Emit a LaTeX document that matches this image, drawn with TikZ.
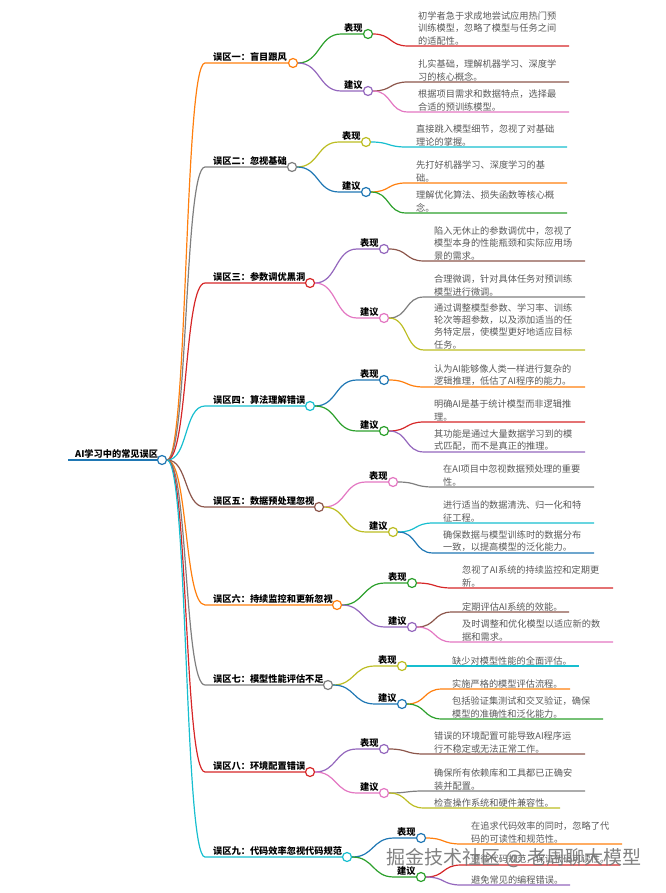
\documentclass[tikz,border=0pt]{standalone}
\usepackage{fontspec}
\newfontfamily\cjk{Noto Sans CJK SC}
\usetikzlibrary{positioning}
\definecolor{mmblue}{HTML}{1F77B4}
\definecolor{mmorange}{HTML}{FF7F0E}
\definecolor{mmgreen}{HTML}{2CA02C}
\definecolor{mmred}{HTML}{D62728}
\definecolor{mmpurple}{HTML}{9467BD}
\definecolor{mmbrown}{HTML}{8C564B}
\definecolor{mmpink}{HTML}{E377C2}
\definecolor{mmgray}{HTML}{7F7F7F}
\definecolor{mmolive}{HTML}{BCBD22}
\definecolor{mmcyan}{HTML}{17BECF}

\begin{document}
\begin{tikzpicture}[x=1pt, y=-1pt,
    dot/.style = {circle, draw=#1, fill=white, line width=1.2pt, inner sep=0pt, minimum size=9pt},
    link/.style = {draw=#1, line width=1.2pt},
    lvone/.style = {font=\cjk\bfseries\fontsize{9.2}{11}\selectfont, inner sep=0pt},
    lvtwo/.style = {font=\cjk\bfseries\fontsize{9.2}{11}\selectfont, inner sep=0pt},
    leaf/.style = {font=\cjk\fontsize{9.2}{12.3}\selectfont, text=black!65, align=left, inner sep=0pt}]
    \useasboundingbox (0,0) rectangle (665,893);

    % root
    \coordinate (r0) at (68,460);
    \node[dot=mmblue] (root) at (162,460) {};
    \draw[link=mmblue] (r0) -- (root);
    \node[lvone, above right=1pt and 7pt of r0] (rt) {AI学习中的常见误区};

    % 误区一
    \node[dot=mmorange] (m1) at (293,63) {};
    \node[dot=mmgreen] (m1a) at (368,34) {};
    \node[dot=mmpurple] (m1b) at (368,91) {};
    \coordinate (s1) at (205,63);
    \coordinate (s1a) at (341,34);
    \coordinate (s1b) at (341,91);
    \coordinate (l1a) at (408,46);
    \coordinate (l1b) at (408,82);
    \coordinate (l1c) at (408,112);
    \draw[link=mmorange] (root) to[out=0,in=180,distance=21] (s1) -- (m1);
    \draw[link=mmgreen] (m1) to[out=0,in=180,distance=22] (s1a) -- (m1a);
    \draw[link=mmpurple] (m1) to[out=0,in=180,distance=22] (s1b) -- (m1b);
    \draw[link=mmred] (m1a) to[out=0,in=180,distance=19] (l1a) -- ++(161,0);
    \draw[link=mmbrown] (m1b) to[out=0,in=180,distance=19] (l1b) -- ++(161,0);
    \draw[link=mmpink] (m1b) to[out=0,in=180,distance=19] (l1c) -- ++(161,0);
    \node[lvone, above right=1pt and 8pt of s1] (t1) {误区一：盲目跟风};
    \node[lvtwo, above right=1pt and 3pt of s1a] (t1a) {表现};
    \node[lvtwo, above right=1pt and 3pt of s1b] (t1b) {建议};
    \node[leaf, above right=1pt and 10pt of l1a] (f1a) {初学者急于求成地尝试应用热门预\\训练模型，忽略了模型与任务之间\\的适配性。};
    \node[leaf, above right=1pt and 10pt of l1b] (f1b) {扎实基础，理解机器学习、深度学\\习的核心概念。};
    \node[leaf, above right=1pt and 10pt of l1c] (f1c) {根据项目需求和数据特点，选择最\\合适的预训练模型。};

    % 误区二
    \node[dot=mmgray] (m2) at (292,167) {};
    \node[dot=mmolive] (m2a) at (366,142) {};
    \node[dot=mmblue] (m2b) at (366,192) {};
    \coordinate (s2) at (205,167);
    \coordinate (s2a) at (339,142);
    \coordinate (s2b) at (339,192);
    \coordinate (l2a) at (406,147);
    \coordinate (l2b) at (406,183);
    \coordinate (l2c) at (406,213);
    \draw[link=mmgray] (root) to[out=0,in=180,distance=21] (s2) -- (m2);
    \draw[link=mmolive] (m2) to[out=0,in=180,distance=22] (s2a) -- (m2a);
    \draw[link=mmblue] (m2) to[out=0,in=180,distance=22] (s2b) -- (m2b);
    \draw[link=mmcyan] (m2a) to[out=0,in=180,distance=19] (l2a) -- ++(161,0);
    \draw[link=mmorange] (m2b) to[out=0,in=180,distance=19] (l2b) -- ++(161,0);
    \draw[link=mmgreen] (m2b) to[out=0,in=180,distance=19] (l2c) -- ++(161,0);
    \node[lvone, above right=1pt and 8pt of s2] (t2) {误区二：忽视基础};
    \node[lvtwo, above right=1pt and 3pt of s2a] (t2a) {表现};
    \node[lvtwo, above right=1pt and 3pt of s2b] (t2b) {建议};
    \node[leaf, above right=1pt and 10pt of l2a] (f2a) {直接跳入模型细节，忽视了对基础\\理论的掌握。};
    \node[leaf, above right=1pt and 10pt of l2b] (f2b) {先打好机器学习、深度学习的基\\础。};
    \node[leaf, above right=1pt and 10pt of l2c] (f2c) {理解优化算法、损失函数等核心概\\念。};

    % 误区三
    \node[dot=mmred] (m3) at (310,283) {};
    \node[dot=mmpurple] (m3a) at (384,249) {};
    \node[dot=mmpink] (m3b) at (384,318) {};
    \coordinate (s3) at (205,283);
    \coordinate (s3a) at (357,249);
    \coordinate (s3b) at (357,318);
    \coordinate (l3a) at (424,261);
    \coordinate (l3b) at (424,297);
    \coordinate (l3c) at (424,350);
    \draw[link=mmred] (root) to[out=0,in=180,distance=21] (s3) -- (m3);
    \draw[link=mmpurple] (m3) to[out=0,in=180,distance=22] (s3a) -- (m3a);
    \draw[link=mmpink] (m3) to[out=0,in=180,distance=22] (s3b) -- (m3b);
    \draw[link=mmbrown] (m3a) to[out=0,in=180,distance=19] (l3a) -- ++(161,0);
    \draw[link=mmgray] (m3b) to[out=0,in=180,distance=19] (l3b) -- ++(161,0);
    \draw[link=mmolive] (m3b) to[out=0,in=180,distance=19] (l3c) -- ++(161,0);
    \node[lvone, above right=1pt and 8pt of s3] (t3) {误区三：参数调优黑洞};
    \node[lvtwo, above right=1pt and 3pt of s3a] (t3a) {表现};
    \node[lvtwo, above right=1pt and 3pt of s3b] (t3b) {建议};
    \node[leaf, above right=1pt and 10pt of l3a] (f3a) {陷入无休止的参数调优中，忽视了\\模型本身的性能瓶颈和实际应用场\\景的需求。};
    \node[leaf, above right=1pt and 10pt of l3b] (f3b) {合理微调，针对具体任务对预训练\\模型进行微调。};
    \node[leaf, above right=1pt and 10pt of l3c] (f3c) {通过调整模型参数、学习率、训练\\轮次等超参数，以及添加适当的任\\务特定层，使模型更好地适应目标\\任务。};

    % 误区四
    \node[dot=mmcyan] (m4) at (310,406) {};
    \node[dot=mmblue] (m4a) at (384,380) {};
    \node[dot=mmgreen] (m4b) at (384,431) {};
    \coordinate (s4) at (205,406);
    \coordinate (s4a) at (357,380);
    \coordinate (s4b) at (357,431);
    \coordinate (l4a) at (424,387);
    \coordinate (l4b) at (424,422);
    \coordinate (l4c) at (424,452);
    \draw[link=mmcyan] (root) to[out=0,in=180,distance=21] (s4) -- (m4);
    \draw[link=mmblue] (m4) to[out=0,in=180,distance=22] (s4a) -- (m4a);
    \draw[link=mmgreen] (m4) to[out=0,in=180,distance=22] (s4b) -- (m4b);
    \draw[link=mmorange] (m4a) to[out=0,in=180,distance=19] (l4a) -- ++(161,0);
    \draw[link=mmred] (m4b) to[out=0,in=180,distance=19] (l4b) -- ++(161,0);
    \draw[link=mmpurple] (m4b) to[out=0,in=180,distance=19] (l4c) -- ++(161,0);
    \node[lvone, above right=1pt and 8pt of s4] (t4) {误区四：算法理解错误};
    \node[lvtwo, above right=1pt and 3pt of s4a] (t4a) {表现};
    \node[lvtwo, above right=1pt and 3pt of s4b] (t4b) {建议};
    \node[leaf, above right=1pt and 10pt of l4a] (f4a) {认为AI能够像人类一样进行复杂的\\逻辑推理，低估了AI程序的能力。};
    \node[leaf, above right=1pt and 10pt of l4b] (f4b) {明确AI是基于统计模型而非逻辑推\\理。};
    \node[leaf, above right=1pt and 10pt of l4c] (f4c) {其功能是通过大量数据学习到的模\\式匹配，而不是真正的推理。};

    % 误区五
    \node[dot=mmbrown] (m5) at (319,507) {};
    \node[dot=mmpink] (m5a) at (393,482) {};
    \node[dot=mmolive] (m5b) at (393,532) {};
    \coordinate (s5) at (205,507);
    \coordinate (s5a) at (366,482);
    \coordinate (s5b) at (366,532);
    \coordinate (l5a) at (433,487);
    \coordinate (l5b) at (433,523);
    \coordinate (l5c) at (433,553);
    \draw[link=mmbrown] (root) to[out=0,in=180,distance=21] (s5) -- (m5);
    \draw[link=mmpink] (m5) to[out=0,in=180,distance=22] (s5a) -- (m5a);
    \draw[link=mmolive] (m5) to[out=0,in=180,distance=22] (s5b) -- (m5b);
    \draw[link=mmgray] (m5a) to[out=0,in=180,distance=19] (l5a) -- ++(161,0);
    \draw[link=mmcyan] (m5b) to[out=0,in=180,distance=19] (l5b) -- ++(161,0);
    \draw[link=mmblue] (m5b) to[out=0,in=180,distance=19] (l5c) -- ++(161,0);
    \node[lvone, above right=1pt and 8pt of s5] (t5) {误区五：数据预处理忽视};
    \node[lvtwo, above right=1pt and 3pt of s5a] (t5a) {表现};
    \node[lvtwo, above right=1pt and 3pt of s5b] (t5b) {建议};
    \node[leaf, above right=1pt and 10pt of l5a] (f5a) {在AI项目中忽视数据预处理的重要\\性。};
    \node[leaf, above right=1pt and 10pt of l5b] (f5b) {进行适当的数据清洗、归一化和特\\征工程。};
    \node[leaf, above right=1pt and 10pt of l5c] (f5c) {确保数据与模型训练时的数据分布\\一致，以提高模型的泛化能力。};

    % 误区六
    \node[dot=mmorange] (m6) at (337,605) {};
    \node[dot=mmgreen] (m6a) at (412,583) {};
    \node[dot=mmpurple] (m6b) at (412,627) {};
    \coordinate (s6) at (205,605);
    \coordinate (s6a) at (385,583);
    \coordinate (s6b) at (385,627);
    \coordinate (l6a) at (452,588);
    \coordinate (l6b) at (452,612);
    \coordinate (l6c) at (452,642);
    \draw[link=mmorange] (root) to[out=0,in=180,distance=21] (s6) -- (m6);
    \draw[link=mmgreen] (m6) to[out=0,in=180,distance=22] (s6a) -- (m6a);
    \draw[link=mmpurple] (m6) to[out=0,in=180,distance=22] (s6b) -- (m6b);
    \draw[link=mmred] (m6a) to[out=0,in=180,distance=19] (l6a) -- ++(161,0);
    \draw[link=mmbrown] (m6b) to[out=0,in=180,distance=19] (l6b) -- ++(117,0);
    \draw[link=mmpink] (m6b) to[out=0,in=180,distance=19] (l6c) -- ++(161,0);
    \node[lvone, above right=1pt and 8pt of s6] (t6) {误区六：持续监控和更新忽视};
    \node[lvtwo, above right=1pt and 3pt of s6a] (t6a) {表现};
    \node[lvtwo, above right=1pt and 3pt of s6b] (t6b) {建议};
    \node[leaf, above right=1pt and 10pt of l6a] (f6a) {忽视了AI系统的持续监控和定期更\\新。};
    \node[leaf, above right=1pt and 10pt of l6b] (f6b) {定期评估AI系统的效能。};
    \node[leaf, above right=1pt and 10pt of l6c] (f6c) {及时调整和优化模型以适应新的数\\据和需求。};

    % 误区七
    \node[dot=mmgray] (m7) at (328,685) {};
    \node[dot=mmolive] (m7a) at (402,666) {};
    \node[dot=mmblue] (m7b) at (402,704) {};
    \coordinate (s7) at (205,685);
    \coordinate (s7a) at (375,666);
    \coordinate (s7b) at (375,704);
    \coordinate (l7a) at (442,666);
    \coordinate (l7b) at (442,689);
    \coordinate (l7c) at (442,719);
    \draw[link=mmgray] (root) to[out=0,in=180,distance=21] (s7) -- (m7);
    \draw[link=mmolive] (m7) to[out=0,in=180,distance=22] (s7a) -- (m7a);
    \draw[link=mmblue] (m7) to[out=0,in=180,distance=22] (s7b) -- (m7b);
    \draw[link=mmcyan] (m7a) to[out=0,in=180,distance=19] (l7a) -- ++(137,0);
    \draw[link=mmorange] (m7b) to[out=0,in=180,distance=19] (l7b) -- ++(128,0);
    \draw[link=mmgreen] (m7b) to[out=0,in=180,distance=19] (l7c) -- ++(161,0);
    \node[lvone, above right=1pt and 8pt of s7] (t7) {误区七：模型性能评估不足};
    \node[lvtwo, above right=1pt and 3pt of s7a] (t7a) {表现};
    \node[lvtwo, above right=1pt and 3pt of s7b] (t7b) {建议};
    \node[leaf, above right=1pt and 10pt of l7a] (f7a) {缺少对模型性能的全面评估。};
    \node[leaf, above right=1pt and 10pt of l7b] (f7b) {实施严格的模型评估流程。};
    \node[leaf, above right=1pt and 10pt of l7c] (f7c) {包括验证集测试和交叉验证，确保\\模型的准确性和泛化能力。};

    % 误区八
    \node[dot=mmred] (m8) at (310,772) {};
    \node[dot=mmpurple] (m8a) at (384,749) {};
    \node[dot=mmpink] (m8b) at (384,793) {};
    \coordinate (s8) at (205,772);
    \coordinate (s8a) at (357,749);
    \coordinate (s8b) at (357,793);
    \coordinate (l8a) at (424,754);
    \coordinate (l8b) at (424,791);
    \coordinate (l8c) at (424,808);
    \draw[link=mmred] (root) to[out=0,in=180,distance=21] (s8) -- (m8);
    \draw[link=mmpurple] (m8) to[out=0,in=180,distance=22] (s8a) -- (m8a);
    \draw[link=mmpink] (m8) to[out=0,in=180,distance=22] (s8b) -- (m8b);
    \draw[link=mmbrown] (m8a) to[out=0,in=180,distance=19] (l8a) -- ++(161,0);
    \draw[link=mmgray] (m8b) to[out=0,in=180,distance=19] (l8b) -- ++(161,0);
    \draw[link=mmolive] (m8b) to[out=0,in=180,distance=19] (l8c) -- ++(136,0);
    \node[lvone, above right=1pt and 8pt of s8] (t8) {误区八：环境配置错误};
    \node[lvtwo, above right=1pt and 3pt of s8a] (t8a) {表现};
    \node[lvtwo, above right=1pt and 3pt of s8b] (t8b) {建议};
    \node[leaf, above right=1pt and 10pt of l8a] (f8a) {错误的环境配置可能导致AI程序运\\行不稳定或无法正常工作。};
    \node[leaf, above right=1pt and 10pt of l8b] (f8b) {确保所有依赖库和工具都已正确安\\装并配置。};
    \node[leaf, above right=1pt and 10pt of l8c] (f8c) {检查操作系统和硬件兼容性。};

    % 误区九
    \node[dot=mmcyan] (m9) at (347,857) {};
    \node[dot=mmblue] (m9a) at (421,838) {};
    \node[dot=mmgreen] (m9b) at (421,877) {};
    \coordinate (s9) at (205,857);
    \coordinate (s9a) at (394,838);
    \coordinate (s9b) at (394,877);
    \coordinate (l9a) at (461,844);
    \coordinate (l9b) at (461,865);
    \coordinate (l9c) at (461,885);
    \draw[link=mmcyan] (root) to[out=0,in=180,distance=21] (s9) -- (m9);
    \draw[link=mmblue] (m9) to[out=0,in=180,distance=22] (s9a) -- (m9a);
    \draw[link=mmgreen] (m9) to[out=0,in=180,distance=22] (s9b) -- (m9b);
    \draw[link=mmorange] (m9a) to[out=0,in=180,distance=19] (l9a) -- ++(161,0);
    \draw[link=mmred] (m9b) to[out=0,in=180,distance=19] (l9b) -- ++(159,0);
    \draw[link=mmpurple] (m9b) to[out=0,in=180,distance=19] (l9c) -- ++(109,0);
    \node[lvone, above right=1pt and 8pt of s9] (t9) {误区九：代码效率忽视代码规范};
    \node[lvtwo, above right=1pt and 3pt of s9a] (t9a) {表现};
    \node[lvtwo, above right=1pt and 3pt of s9b] (t9b) {建议};
    \node[leaf, above right=1pt and 10pt of l9a] (f9a) {在追求代码效率的同时，忽略了代\\码的可读性和规范性。};
    \node[leaf, above right=1pt and 10pt of l9b] (f9b) {遵循代码规范，保证代码可读性。};
    \node[leaf, above right=1pt and 10pt of l9c] (f9c) {避免常见的编程错误。};

    % watermark
    \node[font=\cjk\fontsize{19}{19}\selectfont, text=black!55, opacity=0.9] (wm) at (514,858) {掘金技术社区 @ 老周聊大模型};
\end{tikzpicture}
\end{document}
